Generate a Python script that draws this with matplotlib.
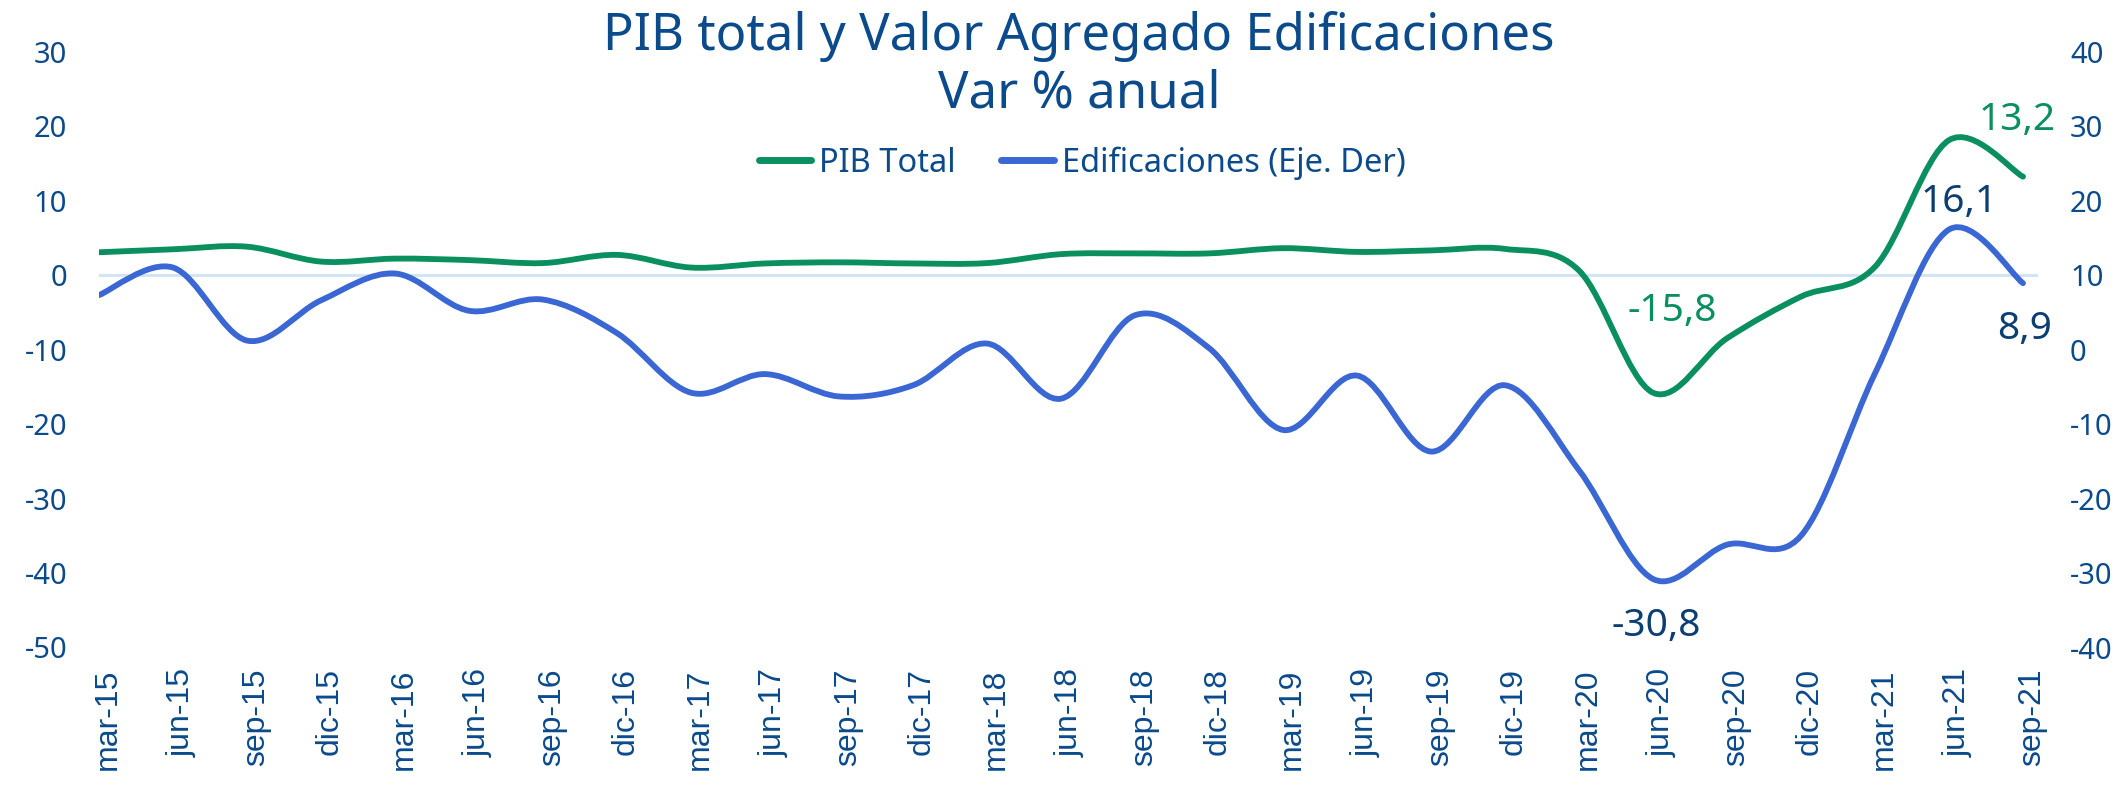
import matplotlib.pyplot as plt
from matplotlib.path import Path
from matplotlib.patches import PathPatch
from matplotlib.lines import Line2D
from matplotlib.transforms import ScaledTranslation

quarters = ["mar-15", "jun-15", "sep-15", "dic-15", "mar-16", "jun-16", "sep-16", "dic-16",
            "mar-17", "jun-17", "sep-17", "dic-17", "mar-18", "jun-18", "sep-18", "dic-18",
            "mar-19", "jun-19", "sep-19", "dic-19", "mar-20", "jun-20", "sep-20", "dic-20",
            "mar-21", "jun-21", "sep-21"]
pib_total = [3.05, 3.45, 3.8, 1.8, 2.2, 2.0, 1.6, 2.7, 1.0, 1.55, 1.7, 1.55, 1.6, 2.8,
             2.9, 2.9, 3.6, 3.1, 3.3, 3.5, 0.6, -15.8, -8.5, -2.9, 1.1, 18.1, 13.2]
edificaciones = [7.3, 11.0, 1.2, 6.6, 10.2, 5.2, 6.7, 2.2, -5.8, -3.3, -6.3, -4.8, 0.8, -6.6,
                 4.6, 0.2, -10.8, -3.5, -13.7, -4.8, -16.2, -30.8, -26.2, -25.0, -3.2, 16.1, 8.9]

TEXT = "#0B4A8B"
GREEN = "#0A8F5F"
BLUE = "#3A67D3"
NAVY = "#0B3F74"
FONT = "Noto Sans"
W, H = 2126, 787


def smooth_path(ys):
    # Excel-style smoothed line: cubic Bezier segments through every point
    n = len(ys)
    pts = list(zip(range(n), ys))
    verts = [pts[0]]
    codes = [Path.MOVETO]
    for i in range(n - 1):
        p0 = pts[i - 1] if i > 0 else pts[i]
        p1, p2 = pts[i], pts[i + 1]
        p3 = pts[i + 2] if i + 2 < n else pts[i + 1]
        c1 = (p1[0] + (p2[0] - p0[0]) / 6, p1[1] + (p2[1] - p0[1]) / 6)
        c2 = (p2[0] - (p3[0] - p1[0]) / 6, p2[1] - (p3[1] - p1[1]) / 6)
        verts += [c1, c2, p2]
        codes += [Path.CURVE4] * 3
    return Path(verts, codes)


fig = plt.figure(figsize=(W / 100, H / 100), dpi=100)
ax = fig.add_axes([99 / W, 1 - 647.5 / H, (2038 - 99) / W, (647.5 - 51.5) / H])
ax2 = ax.twinx()

ax.set_xlim(0, (2038 - 99) / 74)
ax.set_ylim(-50, 30)
ax2.set_ylim(-40, 40)
ax.axhline(0, color="#CFE3F6", lw=2, zorder=1)

ax.add_patch(PathPatch(smooth_path(pib_total), fill=False, edgecolor=GREEN, lw=4.2,
                       capstyle="round", joinstyle="round", zorder=3))
ax2.add_patch(PathPatch(smooth_path(edificaciones), fill=False, edgecolor=BLUE, lw=4.2,
                        capstyle="round", joinstyle="round", zorder=3))

for a in (ax, ax2):
    for s in a.spines.values():
        s.set_visible(False)

ax.set_yticks(range(-50, 31, 10))
ax.set_yticklabels([str(v) for v in range(-50, 31, 10)], fontsize=21, color=TEXT, family=FONT)
ax2.set_yticks(range(-40, 41, 10))
ax2.set_yticklabels([str(v) for v in range(-40, 41, 10)], fontsize=21, color=TEXT, family=FONT)
ax.tick_params(axis="y", length=0, pad=23)
ax2.tick_params(axis="y", length=0, pad=23)
ax.set_xticks(range(len(quarters)))
ax.set_xticklabels(quarters, rotation=90, fontsize=23, color=TEXT, family="Liberation Sans")
ax.tick_params(axis="x", length=0, pad=15)
shift = ScaledTranslation(9 / 100, 0, fig.dpi_scale_trans)
for t in ax.get_xticklabels():
    t.set_transform(t.get_transform() + shift)

# data labels
lab = dict(textcoords="offset points", ha="center", va="center", fontsize=28, family=FONT)
ax.annotate("13,2", (26, pib_total[26]), xytext=(-4, 41), color=GREEN, **lab)
ax.annotate("-15,8", (21, pib_total[21]), xytext=(14, 59), color=GREEN, **lab)
ax2.annotate("16,1", (25, edificaciones[25]), xytext=(7, 20), color=NAVY, **lab)
ax2.annotate("8,9", (26, edificaciones[26]), xytext=(1, -33), color=NAVY, **lab)
ax2.annotate("-30,8", (21, edificaciones[21]), xytext=(2, -34), color=NAVY, **lab)

t1 = fig.text(1079 / W, 1 - 50 / H, "PIB total y Valor Agregado Edificaciones",
              ha="center", va="baseline", fontsize=30, color=TEXT, family=FONT)
t2 = fig.text(1079 / W, 1 - 107 / H, "Var % anual",
              ha="center", va="baseline", fontsize=30, color=TEXT, family=FONT)
# reference title is set in a wide face: scale the size so the first line spans ~950 px
renderer = fig.canvas.get_renderer()
size = 30 * 950 / t1.get_window_extent(renderer).width
t1.set_fontsize(size)
t2.set_fontsize(size)

handles = [Line2D([], [], color=GREEN, lw=5, solid_capstyle="round"),
           Line2D([], [], color=BLUE, lw=5, solid_capstyle="round")]
fig.legend(handles, ["PIB Total", "Edificaciones (Eje. Der)"], loc="center",
           bbox_to_anchor=(1082 / W, 1 - 163 / H), ncol=2, frameon=False,
           prop={"family": FONT, "size": 23.5}, labelcolor=TEXT, handlelength=1.6,
           handletextpad=0.25, columnspacing=1.4)

fig.savefig("out.png", dpi=100)
